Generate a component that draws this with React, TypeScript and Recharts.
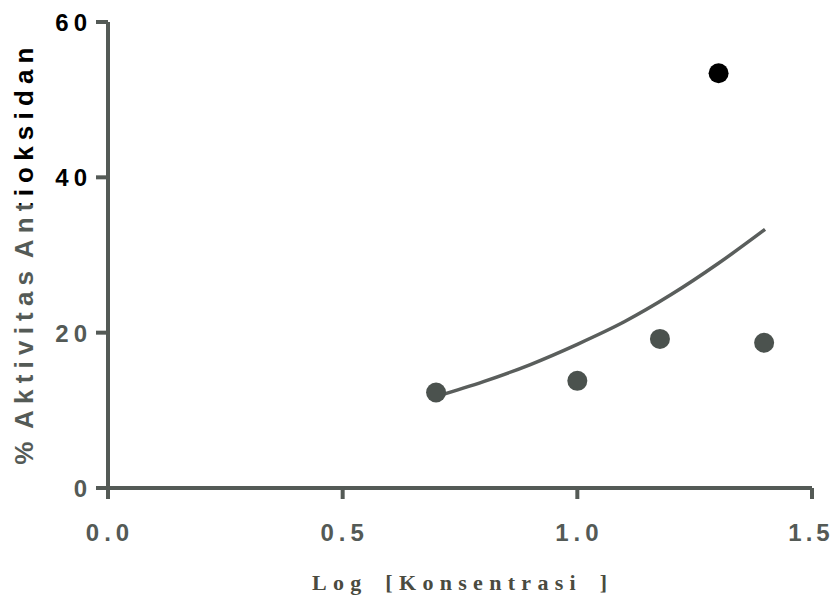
import React from 'react';
import { ComposedChart, Scatter, Line, XAxis, YAxis, ReferenceLine } from 'recharts';

// measured points: log concentration vs % antioxidant activity
const logKonsentrasi = [0.699, 1.0, 1.176, 1.301, 1.398];
const aktivitas = [12.3, 13.8, 19.2, 53.4, 18.7];
const pointColors = ['#4b524e', '#4b524e', '#4b524e', '#000000', '#4b524e'];

// fitted curve
const curveX = [0.7, 0.8, 0.9, 1.0, 1.1, 1.2, 1.3, 1.4];
const curveY = [11.8, 13.7, 15.9, 18.5, 21.4, 24.9, 28.9, 33.3];

const xTicks = [0, 0.5, 1.0, 1.5];
const yTicks = [0, 20, 40, 60];

const points = logKonsentrasi.map((x, i) => ({ x, y: aktivitas[i], color: pointColors[i] }));
const curve = curveX.map((x, i) => ({ x, y: curveY[i] }));

const AXIS_GRAY = '#545a56';
const tickFont = '"Liberation Sans", Arial, sans-serif';

function YTick(props: any) {
  const { x, y, payload } = props;
  const fill = payload.value >= 40 ? '#000' : AXIS_GRAY;
  return (
    <text x={x - 2} y={y} dy={9} textAnchor="end" fill={fill} fontFamily={tickFont}
      fontWeight="bold" fontSize={24} letterSpacing={5}>
      {String(payload.value)}
    </text>
  );
}

function XTick(props: any) {
  const { x, y, payload } = props;
  const shift = payload.value === 1.5 ? -1 : 2;
  return (
    <text x={x + shift} y={y} dy={40} textAnchor="middle" fill={AXIS_GRAY} fontFamily={tickFont}
      fontWeight="bold" fontSize={24} letterSpacing={payload.value === 1.5 ? 4 : 5}>
      {payload.value.toFixed(1)}
    </text>
  );
}

function Dot(props: any) {
  const { cx, cy, payload } = props;
  return <circle cx={cx} cy={cy} r={10} fill={payload.color} />;
}

export default function App() {
  return (
    <div style={{ position: 'absolute', left: 0, top: 0, width: 833, height: 599, background: '#fff' }}>
      <ComposedChart width={833} height={599} margin={{ top: 22, right: 21, bottom: 0, left: 0 }}>
        <defs>
          <linearGradient id="ylab" x1="-300" y1="0" x2="300" y2="0" gradientUnits="userSpaceOnUse">
            <stop offset="0.585" stopColor={AXIS_GRAY} />
            <stop offset="0.585" stopColor="#000" />
          </linearGradient>
        </defs>
        <XAxis dataKey="x" type="number" domain={[0, 1.5]} ticks={xTicks} height={111}
          stroke={AXIS_GRAY} strokeWidth={4} tickSize={11} tickLine={{ stroke: AXIS_GRAY, strokeWidth: 4 }}
          tick={<XTick />} allowDataOverflow />
        <YAxis type="number" domain={[0, 60]} ticks={yTicks} width={108}
          stroke={AXIS_GRAY} strokeWidth={4} tickSize={12}
          tickLine={{ stroke: AXIS_GRAY, strokeWidth: 4 }} tick={<YTick />} />
        <ReferenceLine segment={[{ x: 0, y: 36.8 }, { x: 0, y: 60 }]} stroke="#000" strokeWidth={4} />
        <Line data={curve} dataKey="y" type="monotone" stroke="#5a5e5c" strokeWidth={3.5}
          dot={false} isAnimationActive={false} />
        <Scatter data={points} dataKey="y" shape={<Dot />} isAnimationActive={false} />
        <text transform="translate(33 256) rotate(-90)" x={3} y={0} textAnchor="middle"
          fontFamily={tickFont} fontWeight="bold" fontSize={26} letterSpacing={6.2} wordSpacing={-6}
          fill="url(#ylab)">
          % Aktivitas Antioksidan
        </text>
        <text x={312} y={590} textAnchor="start" fontFamily='"Liberation Serif", "Times New Roman", serif'
          fontWeight="bold" fontSize={22} letterSpacing={6.3} wordSpacing={6} fill="#4a4b3f">
          Log [Konsentrasi ]
        </text>
      </ComposedChart>
    </div>
  );
}
